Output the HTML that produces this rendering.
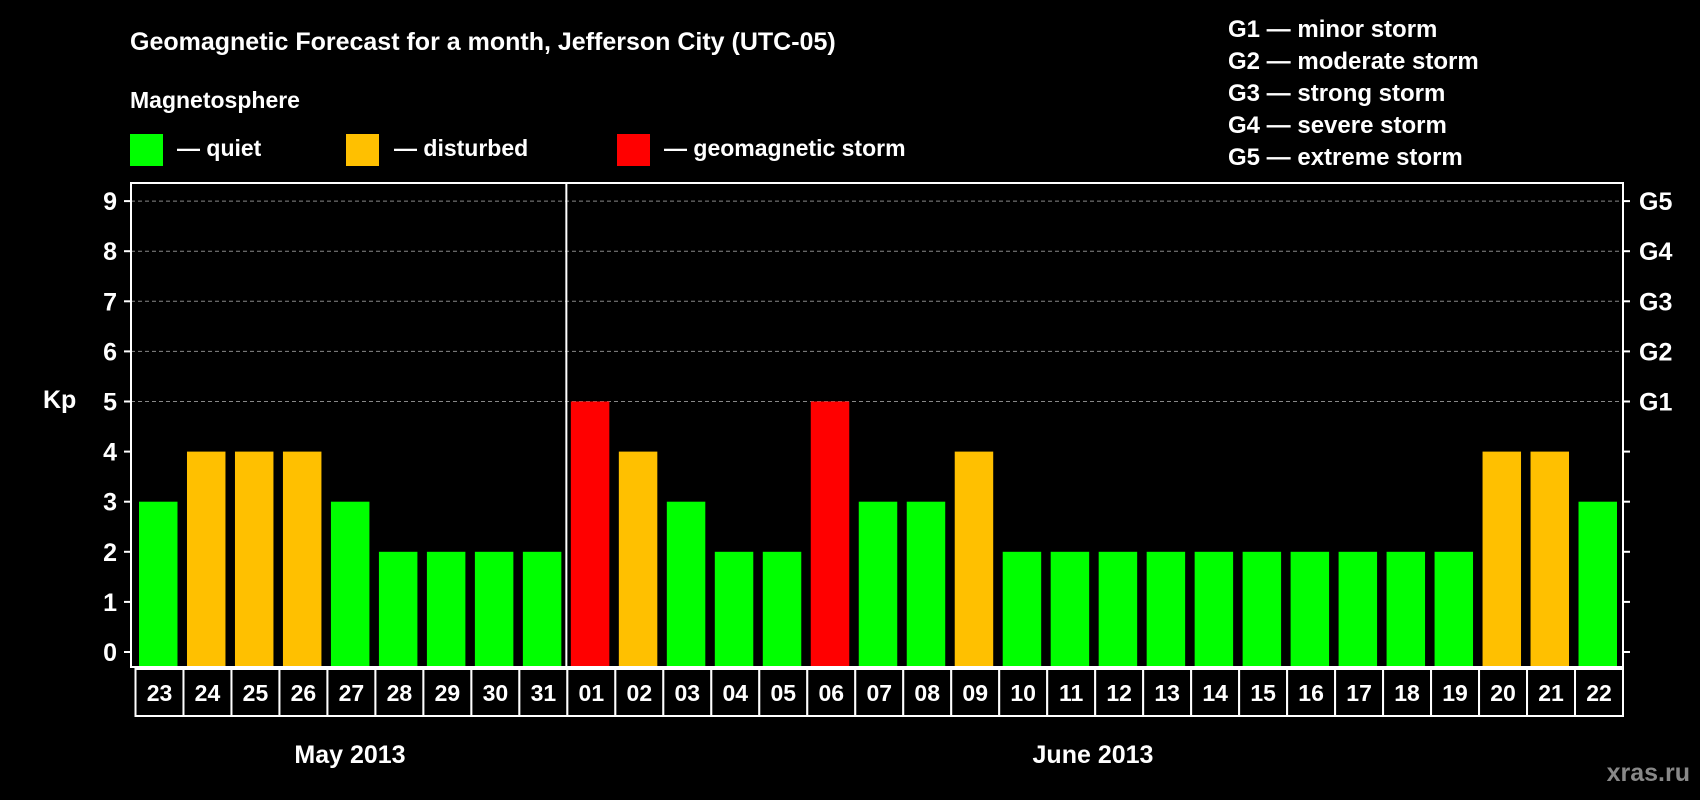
<!DOCTYPE html>
<html><head><meta charset="utf-8"><style>
html,body{margin:0;padding:0;background:#000;}
svg{display:block;font-family:"Liberation Sans",Arial,sans-serif;font-weight:bold;}
</style></head><body>
<svg id="chart" width="1700" height="800" viewBox="0 0 1700 800" xmlns="http://www.w3.org/2000/svg">
<rect width="1700" height="800" fill="#000"/>
<text x="130" y="50" fill="#fff" font-size="25">Geomagnetic Forecast for a month, Jefferson City (UTC-05)</text>
<text x="130" y="108" fill="#fff" font-size="23">Magnetosphere</text>
<rect x="130" y="134" width="33" height="32" fill="#00ff00"/>
<text x="177" y="156" fill="#fff" font-size="23">— quiet</text>
<rect x="346" y="134" width="33" height="32" fill="#ffc000"/>
<text x="394" y="156" fill="#fff" font-size="23">— disturbed</text>
<rect x="617" y="134" width="33" height="32" fill="#ff0000"/>
<text x="664" y="156" fill="#fff" font-size="23">— geomagnetic storm</text>
<g fill="#fff" font-size="24">
<text x="1228" y="37">G1 — minor storm</text>
<text x="1228" y="69">G2 — moderate storm</text>
<text x="1228" y="101">G3 — strong storm</text>
<text x="1228" y="133">G4 — severe storm</text>
<text x="1228" y="165">G5 — extreme storm</text>
</g>
<text x="43" y="408" fill="#fff" font-size="25">Kp</text>
<text x="350" y="763" fill="#fff" font-size="25" text-anchor="middle">May 2013</text>
<text x="1093" y="763" fill="#fff" font-size="25" text-anchor="middle">June 2013</text>
<text x="1690" y="781" fill="#888" font-size="25" text-anchor="end">xras.ru</text>
<g id="plot"></g>
</svg>
<script>
const days = ["23","24","25","26","27","28","29","30","31","01","02","03","04","05","06","07","08","09","10","11","12","13","14","15","16","17","18","19","20","21","22"].slice(0,30);
const kpValues = [3,4,4,4,3,2,2,2,2,5,4,3,2,2,5,3,3,4,2,2,2,2,2,2,2,2,2,2,4,4,3];
const yTicks = [0,1,2,3,4,5,6,7,8,9];
const gLabels = ["G1","G2","G3","G4","G5"];
</script>
<script>
(function(){
const days2 = ["23","24","25","26","27","28","29","30","31","01","02","03","04","05","06","07","08","09","10","11","12","13","14","15","16","17","18","19","20","21","22"];
const n = kpValues.length;
const NS="http://www.w3.org/2000/svg";
const g=document.getElementById('plot');
const L=131,R=1623,T=183,B=667,cellL=135.5,cellR=1623;
const pitch=(cellR-cellL)/n;
const y=v=>652-v*50.1;
const x=i=>cellL+i*pitch;
function mk(t,a,p){const e=document.createElementNS(NS,t);for(const k in a)e.setAttribute(k,a[k]);(p||g).appendChild(e);return e;}
// grid
yTicks.forEach(v=>{
  if(v>=5){const e=mk('line',{x1:L,x2:R,y1:y(v),y2:y(v),stroke:'#888','stroke-width':1,'stroke-dasharray':'4,3'});
  
  }
  const t=mk('line',{x1:L-7,x2:L,y1:y(v),y2:y(v),stroke:'#fff','stroke-width':2});
  
  
  const lb=mk('text',{x:L-14,y:y(v)+9,fill:'#fff','font-size':25,'text-anchor':'end'});lb.textContent=v;
  
  
  const rt=mk('line',{x1:R,x2:R+7,y1:y(v),y2:y(v),stroke:'#fff','stroke-width':2});
  
  
});
gLabels.forEach((s,i)=>{
  const lb=mk('text',{x:R+16,y:y(i+5)+9,fill:'#fff','font-size':25});lb.textContent=s;
  
  
});
// bars
kpValues.forEach((v,i)=>{
  const c=v>=5?'#ff0000':(v>=4?'#ffc000':'#00ff00');
  const b=mk('rect',{x:x(i)+3.5,y:y(v),width:pitch-9.5,height:y(0)-y(v)+14,fill:c});
  
  
});
// frame
const f=mk('rect',{x:L,y:T,width:R-L,height:B-T,fill:'none',stroke:'#fff','stroke-width':2});


const mi=days2.indexOf("01");
const d=mk('line',{x1:x(mi)-1,x2:x(mi)-1,y1:T,y2:B,stroke:'#fff','stroke-width':2});


// date cells
kpValues.forEach((v,i)=>{
  const r=mk('rect',{x:x(i),y:669,width:pitch,height:47,fill:'#000',stroke:'#fff','stroke-width':2});
  
  
  const t=mk('text',{x:x(i)+pitch/2,y:701,fill:'#fff','font-size':23,'text-anchor':'middle'});t.textContent=days2[i];
  
  
});
})();
</script>
</body></html>
